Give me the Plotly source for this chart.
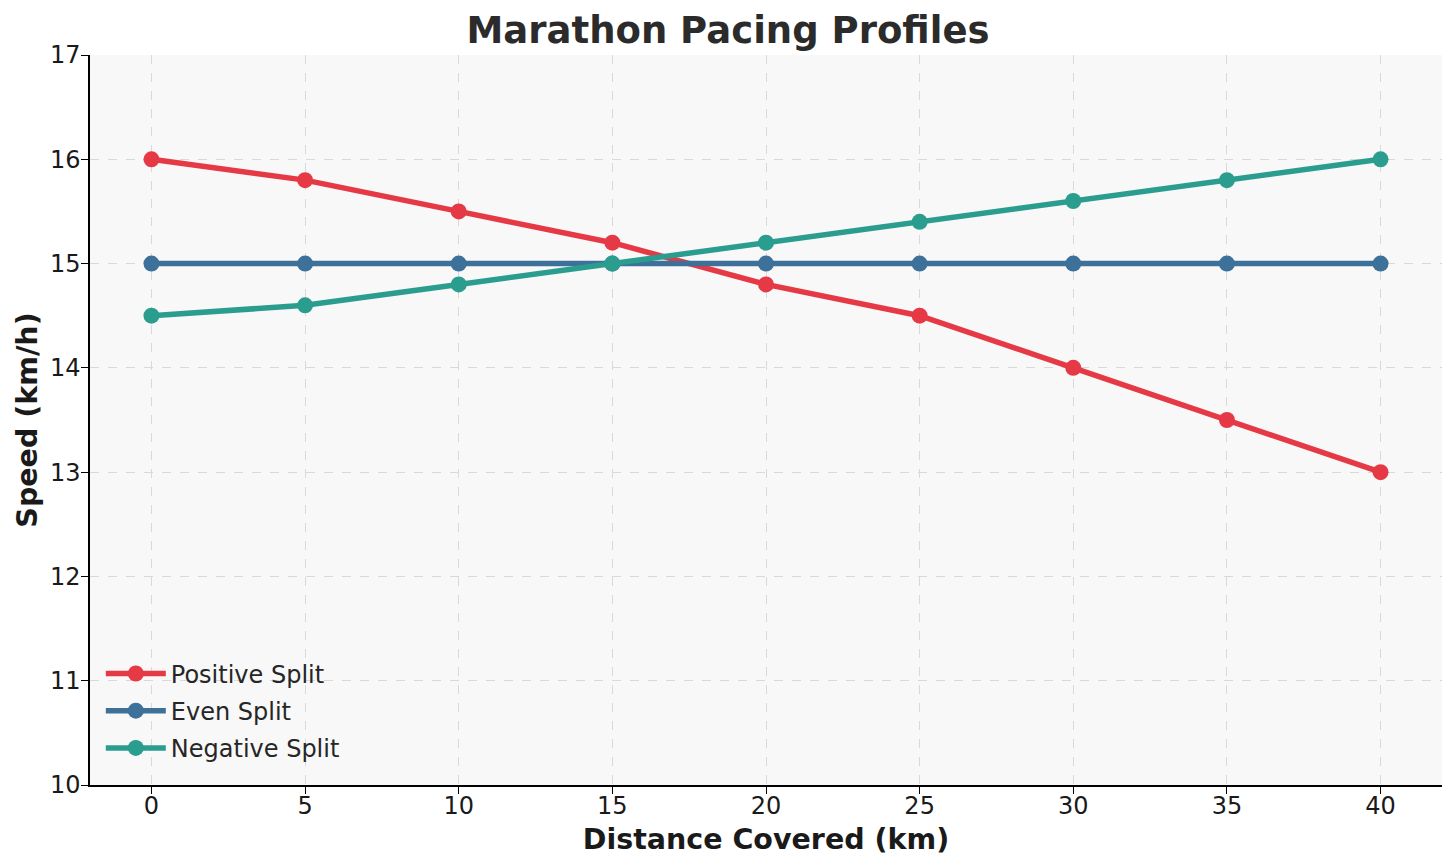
import plotly.graph_objects as go

distance = [0, 5, 10, 15, 20, 25, 30, 35, 40]
positive_split = [16.0, 15.8, 15.5, 15.2, 14.8, 14.5, 14.0, 13.5, 13.0]
even_split = [15.0, 15.0, 15.0, 15.0, 15.0, 15.0, 15.0, 15.0, 15.0]
negative_split = [14.5, 14.6, 14.8, 15.0, 15.2, 15.4, 15.6, 15.8, 16.0]

series = [
    ("Positive Split", positive_split, "#E63946"),
    ("Even Split", even_split, "#3D7199"),
    ("Negative Split", negative_split, "#2A9D8F"),
]

fig = go.Figure()
for name, vals, col in series:
    fig.add_trace(go.Scatter(
        x=distance, y=vals, name=name, mode="lines+markers",
        legendgroup=name,
        line=dict(color=col, width=5.5),
        marker=dict(color=col, size=16),
    ))

font = "DejaVu Sans"
fig.update_layout(
    width=1456, height=868,
    paper_bgcolor="white", plot_bgcolor="#F8F8F8",
    margin=dict(l=90, r=14, t=55, b=83),
    title=dict(text="<b>Marathon Pacing Profiles</b>", x=0.5, xanchor="center",
               y=0.965, yanchor="middle",
               font=dict(family=font, size=37, color="#2b2b2b")),
    font=dict(family=font, color="#1a1a1a"),
    legend=dict(x=0.008, y=0.02, xanchor="left", yanchor="bottom",
                bgcolor="rgba(248,248,248,0)", font=dict(family=font, size=24, color="#262626"),
                itemwidth=60, tracegroupgap=3, traceorder="grouped"),
    showlegend=True,
)
fig.update_xaxes(
    range=[-2, 42], tickvals=distance, ticktext=[str(d) for d in distance],
    title=dict(text="<b>Distance Covered (km)</b>", font=dict(family=font, size=28.5, color="#1a1a1a"), standoff=11),
    tickfont=dict(family=font, size=24, color="#1a1a1a"),
    showline=True, linecolor="black", linewidth=1.5, mirror=False,
    ticks="outside", ticklen=7, tickcolor="black", ticklabelstandoff=-9,
    showgrid=True, gridcolor="#D9D9D9", griddash="dash", gridwidth=1, zeroline=False,
)
fig.update_yaxes(
    range=[10, 17], tickvals=[10, 11, 12, 13, 14, 15, 16, 17],
    title=dict(text="<b>Speed (km/h)</b>", font=dict(family=font, size=28.5, color="#1a1a1a"), standoff=4),
    tickfont=dict(family=font, size=24, color="#1a1a1a"),
    showline=True, linecolor="black", linewidth=1.5, mirror=False,
    ticks="outside", ticklen=7, tickcolor="black", ticklabelstandoff=-4,
    showgrid=True, gridcolor="#D9D9D9", griddash="dash", gridwidth=1, zeroline=False,
)
fig.write_html("out.html", config={"displayModeBar": False},
               post_script="document.body.style.margin='0px';")
